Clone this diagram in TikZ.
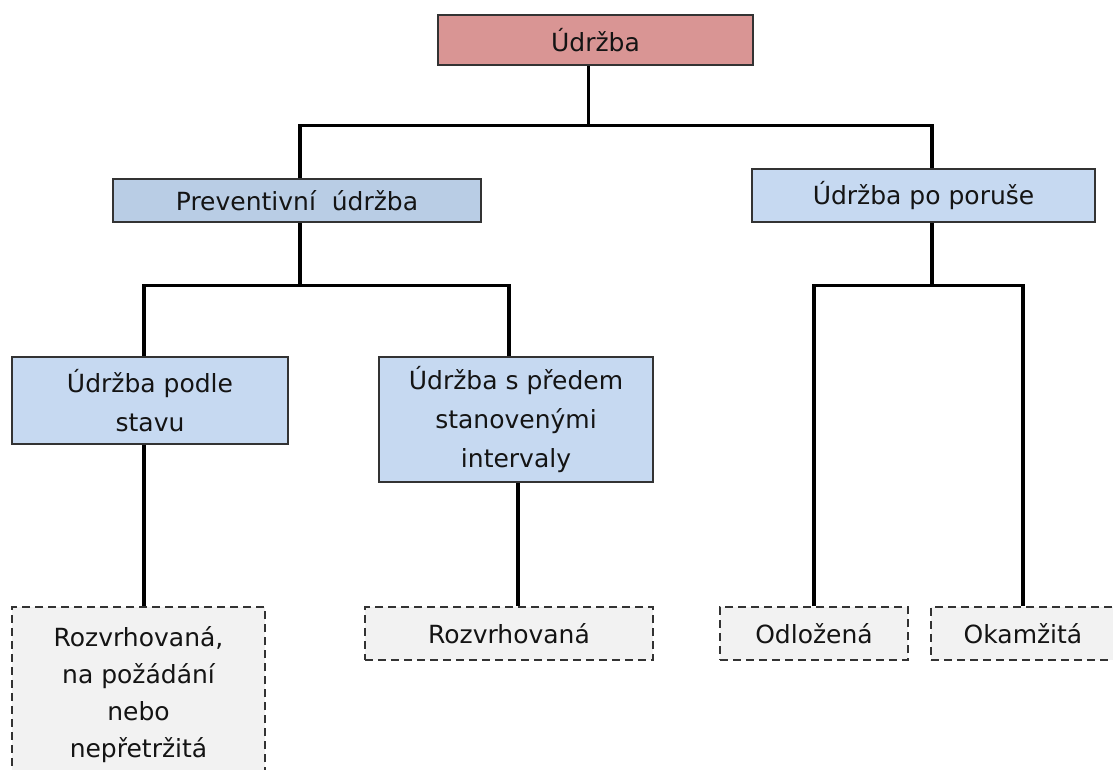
\documentclass[tikz,border=0pt]{standalone}
\usepackage{fontspec}
\setmainfont{DejaVu Sans}

\definecolor{rootred}{HTML}{D99594}
\definecolor{prevblue}{HTML}{B9CDE5}
\definecolor{lightblue}{HTML}{C6D9F1}
\definecolor{leafgray}{HTML}{F2F2F2}
\definecolor{boxline}{HTML}{333333}
\definecolor{textdark}{HTML}{141414}

\tikzset{
  box/.style={draw=boxline, line width=1.6pt, rectangle, fill=lightblue, align=center,
    inner sep=0pt, text=textdark, font=\fontsize{25}{39}\selectfont},
  leaf/.style={box, fill=leafgray, line width=2pt, dash pattern=on 8pt off 5pt,
    font=\fontsize{25}{37}\selectfont},
  conn/.style={line width=3.2pt}
}

\begin{document}
\begin{tikzpicture}[x=1pt, y=-1pt]
        \useasboundingbox (0,0) rectangle (1113,769);

        % Root
        \node[box, fill=rootred, minimum width=315pt, minimum height=50pt] (root) at (595.5,40) {Údržba};

        % Second level
        \node[box, fill=prevblue, minimum width=368pt, minimum height=43pt] (prev) at (297,200.5) {Preventivní~ údržba};
        \node[box, minimum width=343pt, minimum height=53pt] (poruse) at (923.5,195.5) {Údržba po poruše};

        % Third level
        \node[box, minimum width=276pt, minimum height=87pt] (stav) at (150,400.5) {Údržba podle\\stavu};
        \node[box, minimum width=274pt, minimum height=125pt] (interval) at (516,419.5) {Údržba s předem\\stanovenými\\intervaly};

        % Leaves
        \node[leaf, minimum width=253pt, minimum height=175pt] (leafa) at (138.5,694.5) {Rozvrhovaná,\\na požádání\\nebo\\nepřetržitá};
        \node[leaf, minimum width=288pt, minimum height=53pt] (leafb) at (509,633.5) {Rozvrhovaná};
        \node[leaf, minimum width=188pt, minimum height=53pt] (leafc) at (814,633.5) {Odložená};
        \node[leaf, minimum width=220pt, minimum height=53pt] (leafd) at (1041,633.5) {\hspace*{-36pt}Okamžitá};

        % Connectors
        \draw[conn] ([xshift=-7pt]root.south) -- ++(0,60) coordinate (j1);
        \draw[conn] ([xshift=3pt]prev.north) |- (j1) -| ([xshift=8.5pt]poruse.north);

        \draw[conn] ([xshift=3pt]prev.south) -- ++(0,63) coordinate (j2);
        \draw[conn] ([xshift=-6pt]stav.north) |- (j2) -| ([xshift=-7pt]interval.north);

        \draw[conn] ([xshift=8.5pt]poruse.south) -- ++(0,63) coordinate (j3);
        \draw[conn] (leafc.north) |- (j3) -| ([xshift=-18pt]leafd.north);

        \draw[conn] ([xshift=-6pt]stav.south) -- ([xshift=5.5pt]leafa.north);
        \draw[conn] ([xshift=2pt]interval.south) -- ([xshift=9pt]leafb.north);
    \end{tikzpicture}
\end{document}
